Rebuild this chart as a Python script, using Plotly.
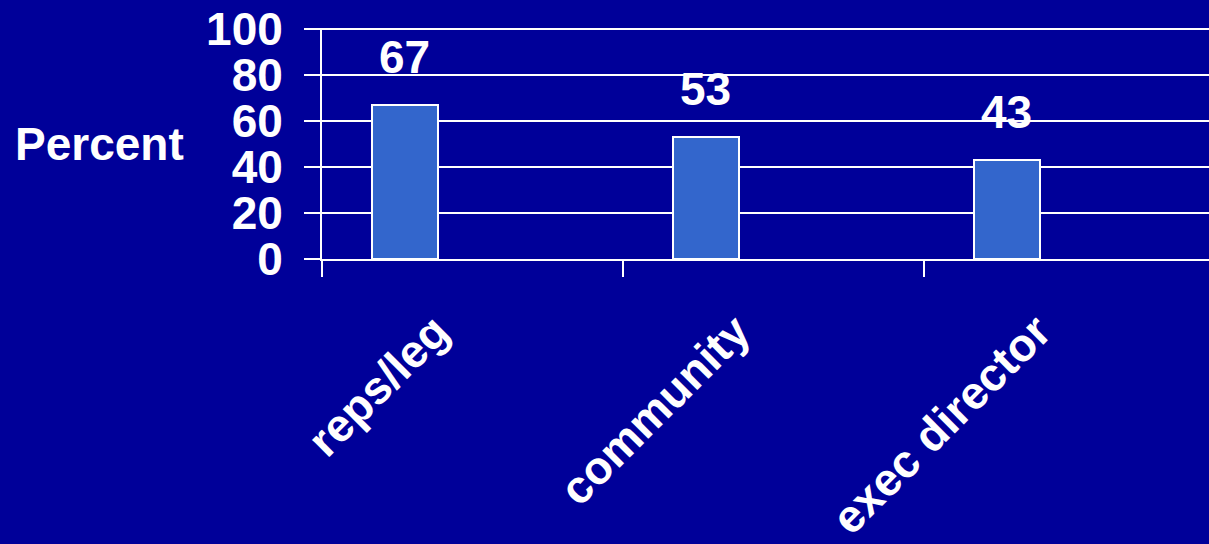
import plotly.graph_objects as go

categories = ["reps/leg", "community", "exec director"]
values = [67, 53, 43]
y_ticks = [0, 20, 40, 60, 80, 100]
y_title = "Percent"

BG = "#000099"
BAR = "#3366CC"
FONT = dict(family="Liberation Sans, Arial, sans-serif", size=46, color="white", weight="bold")

bar_offset = -0.334
bar_width = 0.219

fig = go.Figure()
fig.add_trace(go.Bar(
    x=categories, y=values,
    offset=bar_offset, width=bar_width,
    marker=dict(color=BAR, line=dict(color="white", width=2)),
    showlegend=False,
))

for i, v in enumerate(values):
    fig.add_annotation(
        x=i + bar_offset + bar_width / 2, y=v, xref="x", yref="y",
        text=str(v), showarrow=False, yanchor="middle", yshift=48,
        font=FONT,
    )

fig.add_annotation(
    xref="paper", yref="paper", x=-0.348, y=0.5, xanchor="left", yanchor="middle",
    text=y_title, showarrow=False, font=FONT,
)

fig.update_layout(
    width=1209, height=544,
    margin=dict(l=322, r=0, t=28, b=285),
    paper_bgcolor=BG, plot_bgcolor=BG,
    font=FONT,
    bargap=0,
)
fig.update_xaxes(
    type="category", range=[-0.5, 2.447],
    tickangle=-45, tickfont=FONT, automargin=False,
    ticks="outside", tickson="boundaries", ticklen=16, tickwidth=2, tickcolor="white",
    ticklabelshift=-37, ticklabelstandoff=25,
    showline=True, linecolor="white", linewidth=2,
    showgrid=False,
)
fig.update_yaxes(
    range=[0, 100.5], tickvals=y_ticks, tickfont=FONT, automargin=False,
    ticks="outside", ticklen=16, tickwidth=2, tickcolor="white",
    ticklabelstandoff=12,
    showline=True, linecolor="white", linewidth=2,
    showgrid=True, gridcolor="white", gridwidth=2,
    zeroline=False,
)

fig.write_html(
    "out.html",
    config={"displayModeBar": False},
    post_script="document.body.style.margin='0';document.body.style.background='#000099';",
)
